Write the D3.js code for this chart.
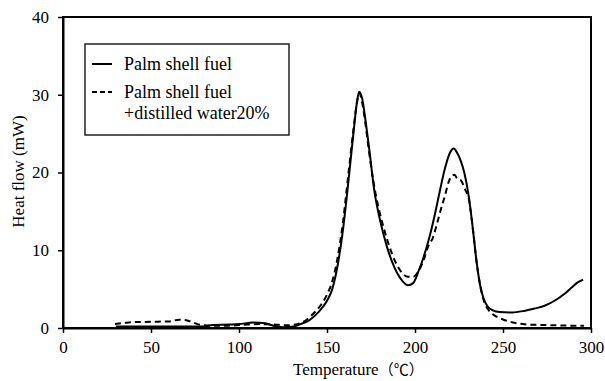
<!DOCTYPE html>
<html>
<head>
<meta charset="utf-8">
<script src="https://cdn.jsdelivr.net/npm/d3@7"></script>
<style>
  body { margin: 0; background: #fff; }
  svg text { font-family: "Liberation Serif", "Times New Roman", serif; fill: #000; }
</style>
</head>
<body>
<svg id="chart"></svg>
<script>
// ---- data ----
var solidTemp = [30,40,50,60,70,80,85,95,100,108,115,120,125,130,135,140,145,150,153,156,159,162,165,167,168.3,170,172,174,177,180,184,187,190,193,196,199,202,205,208,211,214,217,220,222,224,226,228,230.5,233,235,237,239,241.5,244,248,255,262,268,274,280,285,289,292,295.5];
var solidFlow = [0.2,0.2,0.2,0.2,0.2,0.2,0.4,0.45,0.5,0.7,0.6,0.25,0.1,0.15,0.5,1.0,2.0,3.5,5.0,8.0,12.5,18.5,25,29,30.4,29.5,26.5,23,17.5,14,10.5,8.5,7.0,6.0,5.5,5.8,7.3,9.2,11.5,14.3,17.5,20.5,22.6,23.1,22.5,21.5,20,17,12.5,8.5,5.5,3.8,2.7,2.3,2.05,2.0,2.2,2.5,2.9,3.6,4.4,5.2,5.8,6.2];

var dashTemp = [29.5,35,40,50,60,66,70,74,78,85,95,105,112,120,127,133,138,142,146,150,153,156,159,162,165,167,168.3,170,172,174,177,180,184,187,190,193,196,199,202,205,208,210,212,215,217,219,221,222.5,224,226,228.5,230.5,233,235,237,239,241.5,244,246.4,250,255,258,264,270,280,290,296];
var dashFlow = [0.5,0.65,0.75,0.8,0.85,1.05,1.0,0.7,0.4,0.3,0.3,0.45,0.5,0.45,0.35,0.5,1.0,1.8,2.8,4.3,6,9,13.5,19.5,25.5,29,30.2,29,26,22.5,18,14.8,11.5,9.5,8.0,7.0,6.6,6.6,7.3,8.8,10.8,11.5,13,15.5,17,18.7,19.6,19.7,19.2,19,17.8,16.7,12.5,8.5,5.5,3.6,2.4,1.8,1.45,1.1,0.75,0.6,0.45,0.4,0.35,0.3,0.3];

var xTicks = [0,50,100,150,200,250,300];
var yTicks = [0,10,20,30,40];
var seriesNames = ["Palm shell fuel", "Palm shell fuel", "+distilled water20%"];
var xTitle = "Temperature";
var xUnit = "（℃）";
var yTitle = "Heat flow (mW)";

var chart_width = 605;
var chart_height = 381;
var margin = { top: 17, right: 14, bottom: 53, left: 63 };
var width = chart_width - margin.left - margin.right;
var height = chart_height - margin.top - margin.bottom;
var serif = '"Liberation Serif", "Times New Roman", serif';

var svg = d3.select('#chart')
    .attr('width', chart_width)
    .attr('height', chart_height);

var g = svg.append('g')
    .attr('transform', 'translate(' + margin.left + ',' + margin.top + ')');

var x_scale = d3.scaleLinear().domain([0, 300]).range([0, width]);
var y_scale = d3.scaleLinear().domain([0, 40]).range([height, 0]);

// frame (top and right edges)
g.append('rect')
    .attr('x', 0).attr('y', 0)
    .attr('width', width).attr('height', height)
    .attr('fill', 'none')
    .attr('stroke', '#000')
    .attr('stroke-width', 2);

var xAxis = g.append('g')
    .attr('transform', 'translate(0,' + height + ')')
    .call(d3.axisBottom(x_scale).tickValues(xTicks).tickSize(5).tickPadding(8).tickSizeOuter(0));

var yAxis = g.append('g')
    .call(d3.axisLeft(y_scale).tickValues(yTicks).tickSize(5).tickPadding(9).tickSizeOuter(0));

[xAxis, yAxis].forEach(function(a) {
    a.attr('font-family', serif).attr('font-size', 17);
    a.select('.domain').attr('stroke-width', 2);
    a.selectAll('.tick line').attr('stroke-width', 1.5);
    a.selectAll('.tick text')
        .style('font-family', serif)
        .style('font-size', '17px');
});

var line = d3.line()
    .x(function(d) { return x_scale(d[0]); })
    .y(function(d) { return y_scale(d[1]); })
    .curve(d3.curveMonotoneX);

g.append('path')
    .datum(d3.zip(dashTemp, dashFlow))
    .attr('fill', 'none')
    .attr('stroke', '#000')
    .attr('stroke-width', 2)
    .attr('stroke-dasharray', '6,4')
    .attr('d', line);

g.append('path')
    .datum(d3.zip(solidTemp, solidFlow))
    .attr('fill', 'none')
    .attr('stroke', '#000')
    .attr('stroke-width', 2)
    .attr('d', line);

// axis titles
var xt = svg.append('text')
    .attr('x', 293)
    .attr('y', 375)
    .style('font-size', '17px');
xt.append('tspan').text(xTitle);
xt.append('tspan')
    .style('font-family', '"Noto Sans CJK JP", sans-serif')
    .style('font-size', '15px')
    .text(xUnit);

svg.append('text')
    .attr('transform', 'translate(24,' + (margin.top + height / 2 - 1) + ') rotate(-90)')
    .attr('text-anchor', 'middle')
    .style('font-size', '17px')
    .text(yTitle);

// legend
var legend = svg.append('g').attr('transform', 'translate(85,44)');
legend.append('rect')
    .attr('width', 204).attr('height', 91)
    .attr('fill', '#fff')
    .attr('stroke', '#222')
    .attr('stroke-width', 1.5);

legend.append('line')
    .attr('x1', 7).attr('x2', 27).attr('y1', 20).attr('y2', 20)
    .attr('stroke', '#000').attr('stroke-width', 2);
legend.append('line')
    .attr('x1', 7).attr('x2', 27).attr('y1', 48).attr('y2', 48)
    .attr('stroke', '#000').attr('stroke-width', 2)
    .attr('stroke-dasharray', '5,3');

var legendY = [26, 54, 75];
legend.selectAll('text.lbl')
    .data(seriesNames)
    .enter()
    .append('text')
    .attr('class', 'lbl')
    .attr('x', 39)
    .attr('y', function(d, i) { return legendY[i]; })
    .style('font-size', '18px')
    .text(function(d) { return d; });
</script>
</body>
</html>
